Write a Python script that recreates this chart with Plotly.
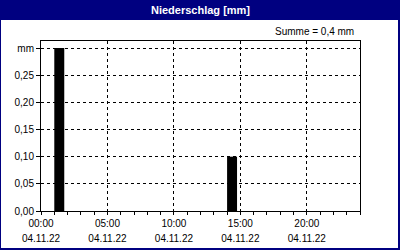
import plotly.graph_objects as go

# Data
hours = list(range(24))
precip = [0.0, 0.3, 0.0, 0.0, 0.0, 0.0, 0.0, 0.0, 0.0, 0.0, 0.0, 0.0,
          0.0, 0.0, 0.1, 0.0, 0.0, 0.0, 0.0, 0.0, 0.0, 0.0, 0.0, 0.0]
x_tickvals = [0, 5, 10, 15, 20]
x_time_labels = ["00:00", "05:00", "10:00", "15:00", "20:00"]
x_date_labels = ["04.11.22", "04.11.22", "04.11.22", "04.11.22", "04.11.22"]
y_tickvals = [0.0, 0.05, 0.10, 0.15, 0.20, 0.25, 0.30]
y_ticktext = ["0,00", "0,05", "0,10", "0,15", "0,20", "0,25", "mm"]
title = "Niederschlag [mm]"
summe = "Summe = 0,4 mm"

W, H = 400, 250
L, R, T, B = 41, 40, 41, 39
pw, ph = W - L - R, H - T - B

def px(x):
    return (x - L) / pw

def py(y):
    return (H - B - y) / ph

NAVY = "#000080"
FONT = "Liberation Sans"

fig = go.Figure()
fig.add_trace(go.Bar(
    x=hours, y=precip, width=0.75, offset=0,
    marker=dict(color="black", line=dict(width=0)),
    hoverinfo="skip",
))
# invisible trace to anchor the date-label axis
fig.add_trace(go.Scatter(x=[0], y=[0], xaxis="x2", mode="markers",
                         marker=dict(opacity=0), hoverinfo="skip"))

fig.update_layout(
    width=W, height=H,
    margin=dict(l=L, r=R, t=T, b=B, pad=0, autoexpand=False),
    paper_bgcolor=NAVY,
    plot_bgcolor="white",
    showlegend=False,
    font=dict(family=FONT, size=10, color="black"),
    shapes=[
        dict(type="rect", xref="paper", yref="paper", layer="below",
             x0=px(1), x1=px(398), y0=py(248), y1=py(20),
             fillcolor="white", line=dict(width=0)),
    ],
    annotations=[
        dict(text="<b>" + title + "</b>", xref="paper", yref="paper",
             x=px(200), y=py(10), xanchor="center", yanchor="middle",
             showarrow=False, font=dict(family=FONT, size=11, color="white")),
        dict(text=summe, xref="paper", yref="paper",
             x=px(356), y=py(31), xanchor="right", yanchor="middle",
             showarrow=False, font=dict(family=FONT, size=10, color="black")),
    ],
    xaxis2=dict(
        overlaying="x", side="bottom", anchor="y", range=[0, 24],
        tickmode="array", tickvals=x_tickvals, ticktext=x_date_labels,
        showgrid=False, showline=False, zeroline=False, ticks="",
        ticklabelstandoff=20, fixedrange=True, automargin=False,
        tickfont=dict(family=FONT, size=10, color="black"),
    ),
)

fig.layout.xaxis.update(
    range=[0, 24], tickmode="array", tickvals=x_tickvals, ticktext=x_time_labels,
    showgrid=True, gridcolor="black", gridwidth=1, griddash="3px,3px",
    showline=True, linecolor="black", linewidth=1, mirror=True,
    ticks="outside", ticklen=3, tickcolor="black",
    minor=dict(dtick=1, tick0=0, ticks="outside", ticklen=3, tickcolor="black", showgrid=False),
    zeroline=False, fixedrange=True, automargin=False,
    tickfont=dict(family=FONT, size=10),
)
fig.update_yaxes(
    range=[0, 0.313], tickmode="array", tickvals=y_tickvals, ticktext=y_ticktext,
    showgrid=True, gridcolor="black", gridwidth=1, griddash="3px,3px",
    showline=True, linecolor="black", linewidth=1, mirror=True,
    ticks="outside", ticklen=4, tickcolor="black",
    zeroline=False, fixedrange=True, automargin=False,
    tickfont=dict(family=FONT, size=10),
)

fig.write_html("out.html", config=dict(displayModeBar=False))
